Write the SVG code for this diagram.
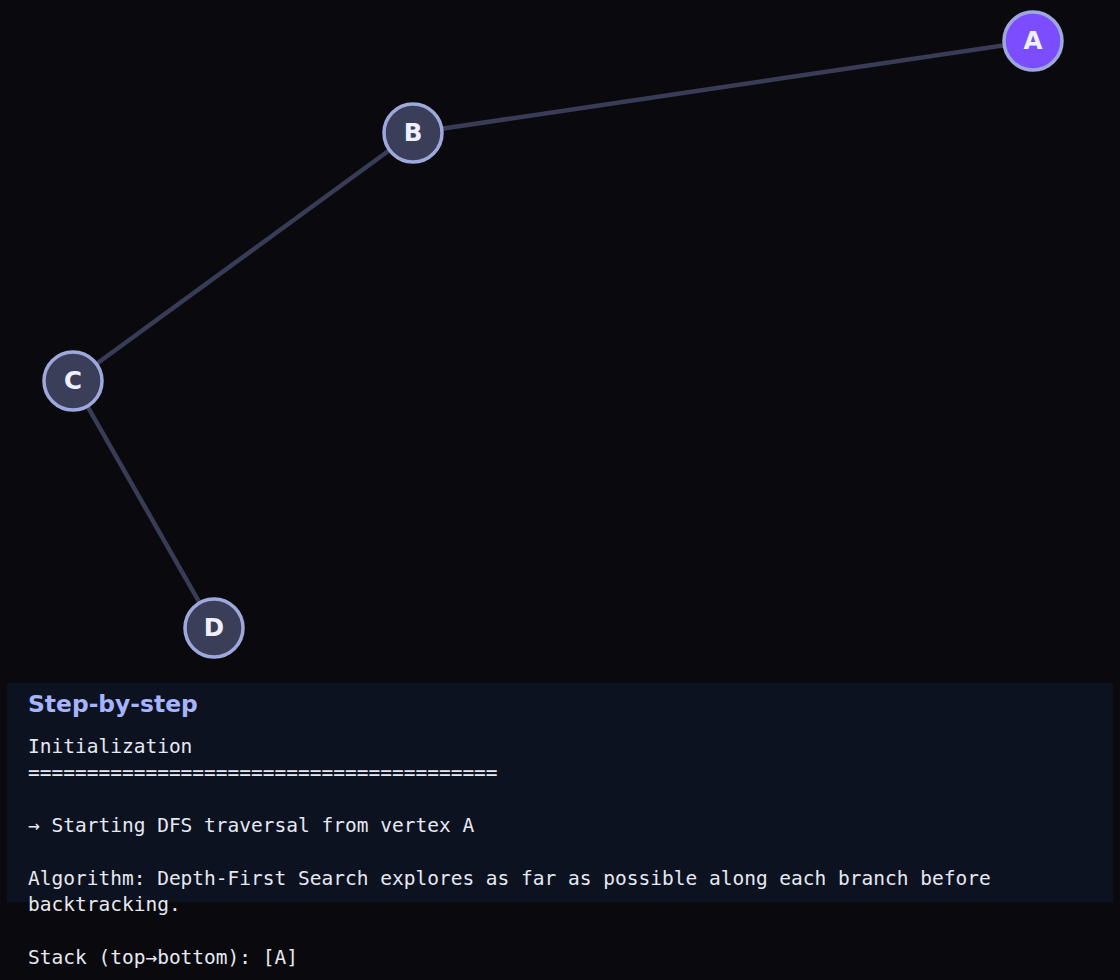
<svg xmlns="http://www.w3.org/2000/svg" width="1120" height="980" viewBox="0 0 1120 980">
<style>
.edge{stroke:#383c56;stroke-width:4.5;fill:none}
.node circle{stroke:#9ea8dc;stroke-width:3.5}
.plain{fill:#3b3e58}
.active{fill:#7c4dff}
.lbl{font-family:"DejaVu Sans",sans-serif;font-weight:bold;font-size:24.5px;fill:#eef0ff;text-anchor:middle}
.title{font-family:"DejaVu Sans",sans-serif;font-weight:bold;font-size:23.4px;fill:#a5b4fc}
.mono{font-family:"DejaVu Sans Mono",monospace;font-size:19.5px;fill:#e6e8f2}
</style>
<rect width="1120" height="980" fill="#0a0a0e"/>
<g id="connectors">
<line class="edge" x1="1033" y1="41" x2="413" y2="133"/>
<line class="edge" x1="413" y1="133" x2="73" y2="381"/>
<line class="edge" x1="73" y1="381" x2="214" y2="628"/>
</g>
<g id="node-A" class="node"><circle class="active" cx="1033" cy="41" r="29"/><text class="lbl" x="1033" y="49">A</text></g>
<g id="node-B" class="node"><circle class="plain" cx="413" cy="133" r="29"/><text class="lbl" x="413" y="141">B</text></g>
<g id="node-C" class="node"><circle class="plain" cx="73" cy="381" r="29"/><text class="lbl" x="73" y="389">C</text></g>
<g id="node-D" class="node"><circle class="plain" cx="214" cy="628" r="29"/><text class="lbl" x="214" y="636">D</text></g>
<g id="panel">
<rect x="7" y="683" width="1106" height="219" fill="#0d1220"/>
<text class="title" x="28" y="712">Step-by-step</text>
<text class="mono" x="28" y="753">Initialization</text>
<text class="mono" x="28" y="779">========================================</text>
<text class="mono" x="28" y="832">→ Starting DFS traversal from vertex A</text>
<text class="mono" x="28" y="885">Algorithm: Depth-First Search explores as far as possible along each branch before</text>
<text class="mono" x="28" y="911">backtracking.</text>
<text class="mono" x="28" y="964">Stack (top→bottom): [A]</text>
</g>
</svg>
